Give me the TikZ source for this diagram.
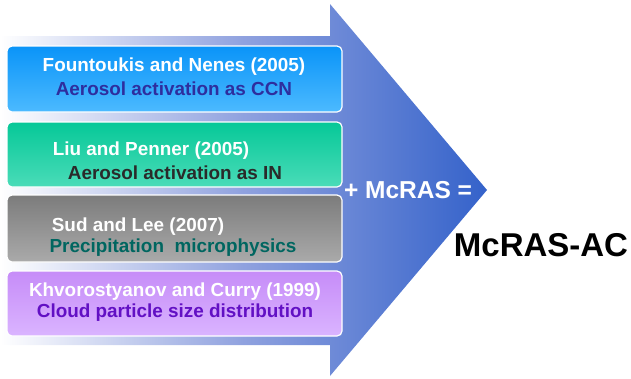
\documentclass[tikz,border=0pt]{standalone}
\usepackage{fontspec}
\setmainfont{Liberation Sans}
\definecolor{arrowblue}{HTML}{3462CA}
\definecolor{arrowmid}{HTML}{6A82D4}
\definecolor{bAtop}{HTML}{0A94F8}
\definecolor{bAbot}{HTML}{4CBAFF}
\definecolor{bBtop}{HTML}{06C898}
\definecolor{bBbot}{HTML}{4ADCB8}
\definecolor{bCtop}{HTML}{7C7C7C}
\definecolor{bCbot}{HTML}{AAAAAA}
\definecolor{bDtop}{HTML}{C68CF8}
\definecolor{bDbot}{HTML}{DAB4FF}
\definecolor{tA}{HTML}{2E2E9E}
\definecolor{tB}{HTML}{2A2A2A}
\definecolor{tC}{HTML}{006660}
\definecolor{tD}{HTML}{6210C4}
\begin{document}
\begin{tikzpicture}[x=1pt,y=-1pt,
  boxstyle/.style={draw=white,line width=1.2pt,rounded corners=5pt},
  wtext/.style={text=white,font=\bfseries\fontsize{18.9}{22}\selectfont,inner sep=0pt,anchor=center},
  ctext/.style={font=\bfseries\fontsize{18.9}{22}\selectfont,inner sep=0pt,anchor=center}]
\useasboundingbox (0,0) rectangle (631,378);
% arrow
\shade[left color=white,right color=arrowblue,middle color=arrowmid!75!white]
  (0,36) -- (330,36) -- (330,4) -- (487,190) -- (330,376) -- (330,345) -- (0,345) -- cycle;
% boxes
\shade[boxstyle,top color=bAtop,bottom color=bAbot] (7,46) rectangle (342,112);
\shade[boxstyle,top color=bBtop,bottom color=bBbot] (7,122) rectangle (342,187);
\shade[boxstyle,top color=bCtop,bottom color=bCbot] (7,195) rectangle (342,262);
\shade[boxstyle,top color=bDtop,bottom color=bDbot] (7,271) rectangle (342,336);
\node[boxstyle,draw=none,minimum width=335pt,minimum height=66pt] (boxA) at (174.5,79) {};
\node[boxstyle,draw=none,minimum width=335pt,minimum height=65pt] (boxB) at (174.5,154.5) {};
\node[boxstyle,draw=none,minimum width=335pt,minimum height=67pt] (boxC) at (174.5,228.5) {};
\node[boxstyle,draw=none,minimum width=335pt,minimum height=65pt] (boxD) at (174.5,303.5) {};
% texts
\node[wtext] (a1) at (174,67) {Fountoukis and Nenes (2005)};
\node[ctext,text=tA] (a2) at (174,89) {Aerosol activation as CCN};
\node[wtext] (b1) at (151,151) {Liu and Penner (2005)};
\node[ctext,text=tB] (b2) at (175,173) {Aerosol activation as IN};
\node[wtext] (c1) at (138,227) {Sud and Lee (2007)};
\node[ctext,text=tC] (c2) at (173,248) {Precipitation\ \ microphysics};
\node[wtext] (d1) at (175,292) {Khvorostyanov and Curry (1999)};
\node[ctext,text=tD] (d2) at (175,313) {Cloud particle size distribution};
\node[text=white,font=\bfseries\fontsize{24.5}{28}\selectfont,inner sep=0pt] (plus) at (408,190) {+ McRAS =};
\node[text=black,font=\bfseries\fontsize{33}{38}\selectfont,inner sep=0pt] (res) at (541,245) {McRAS-AC};
\end{tikzpicture}
\end{document}
